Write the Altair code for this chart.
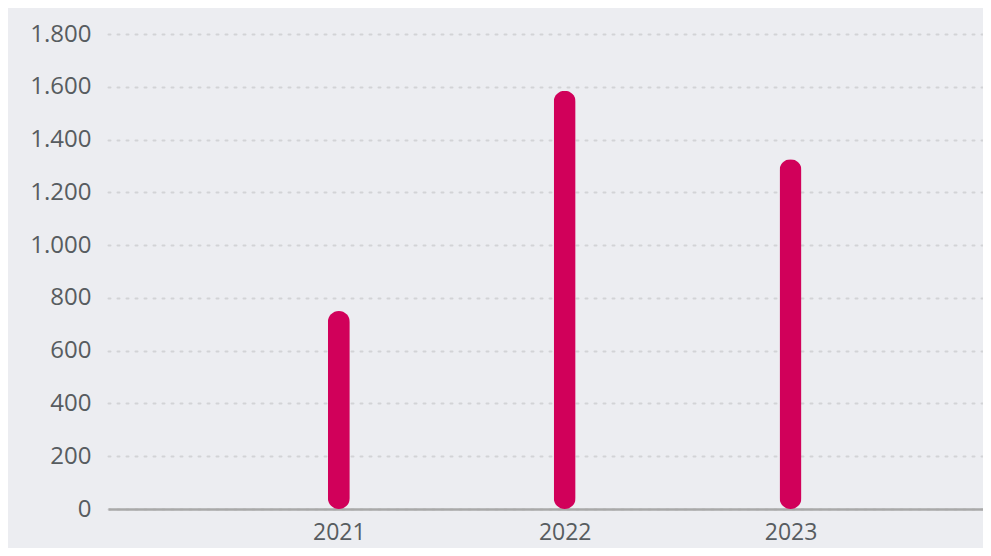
import altair as alt
import pandas as pd

years = [2021, 2022, 2023]
values = [750, 1585, 1325]
y_ticks = [0, 200, 400, 600, 800, 1000, 1200, 1400, 1600, 1800]

df = pd.DataFrame({"year": years, "value": values})

FONT = "Open Sans"
LABEL = "#575c60"

bars = alt.Chart(df).mark_bar(
    color="#d1005a", size=22, cornerRadius=11
).encode(
    x=alt.X("year:Q",
            scale=alt.Scale(domain=[2020, 2023.83], nice=False, zero=False),
            axis=alt.Axis(values=years, format="d", title=None, grid=False,
                          ticks=False, domain=True, domainColor="#a9a9a9",
                          domainWidth=2.5, labelFont=FONT, labelFontSize=23,
                          labelColor=LABEL, labelPadding=12)),
    y=alt.Y("value:Q",
            scale=alt.Scale(domain=[0, 1800], nice=False),
            axis=alt.Axis(values=y_ticks, title=None, ticks=False, domain=False,
                          grid=True, gridColor="#d2d3d6", gridDash=[2, 7],
                          gridWidth=2, gridCap="round",
                          labelFont=FONT, labelFontSize=24, labelColor=LABEL,
                          labelPadding=17,
                          labelExpr="replace(format(datum.value, ','), ',', '.')")),
)

chart = bars.properties(
    width=875, height=475, background="#ecedf1",
    autosize=alt.AutoSizeParams(type="none"),
    padding={"left": 100, "top": 26, "right": 0, "bottom": 39},
).configure_view(stroke=None)

chart.save("out.html", embed_options={"renderer": "svg", "actions": False})
